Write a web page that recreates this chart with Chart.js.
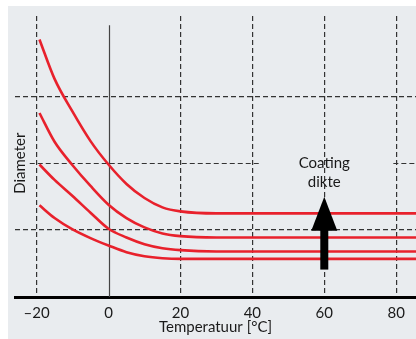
<!DOCTYPE html>
<html>
<head>
<meta charset="utf-8">
<script src="https://cdn.jsdelivr.net/npm/chart.js@4"></script>
<style>
    body { margin: 0; background: #fff; }
    #kader { position: absolute; left: 8px; top: 6px; width: 408px; height: 333px; background: #e9ecef; }
</style>
</head>
<body>
<div id="kader"><canvas id="grafiek" width="408" height="333"></canvas></div>
<script>
// Gegevens
const temperatuur = [-19.2, -15, -10, -5, 0, 5, 10, 15, 20, 30, 86];
const dikte1 = [3.85, 3.26, 2.77, 2.33, 1.98, 1.69, 1.48, 1.34, 1.28, 1.25, 1.25];
const dikte2 = [2.75, 2.32, 1.97, 1.66, 1.38, 1.18, 1.04, 0.95, 0.91, 0.89, 0.89];
const dikte3 = [1.98, 1.75, 1.51, 1.26, 1.02, 0.89, 0.79, 0.73, 0.70, 0.68, 0.68];
const dikte4 = [1.37, 1.18, 1.01, 0.88, 0.77, 0.67, 0.61, 0.58, 0.57, 0.57, 0.57];
const tempTicks = [-20, 0, 20, 40, 60, 80];
const diameterLijnen = [1, 3];
const pijl = { x: 60, van: 0.41, tot: 1.5, kopBasis: 0.99 };

const rood = '#e8212c';
const lettertype = 'Lato, "DejaVu Sans", sans-serif';

function maakReeks(waarden) {
    return {
        data: temperatuur.map((t, i) => ({ x: t, y: waarden[i] })),
        borderColor: rood,
        borderWidth: 2.6,
        pointRadius: 0,
        fill: false,
        showLine: true,
        cubicInterpolationMode: 'monotone',
    };
}

// Extra tekeningen: nullijn, onderbroken lijn, teksten en pijl
const extra = {
    id: 'extra',
    beforeDatasetsDraw(chart) {
        const { ctx, scales: { x, y } } = chart;
        ctx.save();
        // doorgetrokken lijn bij 0 °C
        const x0 = Math.round(x.getPixelForValue(0)) + 0.5;
        ctx.strokeStyle = '#444';
        ctx.lineWidth = 1.2;
        ctx.beginPath();
        ctx.moveTo(x0, y.getPixelForValue(4.06));
        ctx.lineTo(x0, y.getPixelForValue(0));
        ctx.stroke();
        // middelste horizontale stippellijn met onderbreking
        const y2 = Math.round(y.getPixelForValue(2)) + 0.5;
        ctx.strokeStyle = '#333';
        ctx.setLineDash([5, 3]);
        ctx.beginPath();
        ctx.moveTo(x.getPixelForValue(-21.9), y2);
        ctx.lineTo(x.getPixelForValue(42.5), y2);
        ctx.moveTo(x.getPixelForValue(79.2), y2);
        ctx.lineTo(x.right, y2);
        ctx.stroke();
        ctx.restore();
    },
    afterDatasetsDraw(chart) {
        const { ctx, scales: { x, y } } = chart;
        ctx.save();
        // pijl
        const px = x.getPixelForValue(pijl.x);
        const onder = y.getPixelForValue(pijl.van);
        const top = y.getPixelForValue(pijl.tot);
        const basis = y.getPixelForValue(pijl.kopBasis);
        ctx.fillStyle = '#000';
        ctx.fillRect(px - 4, basis - 1, 8, onder - basis + 1);
        ctx.beginPath();
        ctx.moveTo(px, top);
        ctx.lineTo(px + 13, basis);
        ctx.lineTo(px - 13, basis);
        ctx.closePath();
        ctx.fill();
        // teksten
        ctx.fillStyle = '#1a1a1a';
        ctx.font = '15px ' + lettertype;
        ctx.textAlign = 'center';
        ctx.textBaseline = 'middle';
        ctx.fillText('Coating', px, y.getPixelForValue(2.0));
        ctx.fillText('dikte', px, y.getPixelForValue(1.71));
        ctx.translate(x.getPixelForValue(-24.7), y.getPixelForValue(2.0));
        ctx.rotate(-Math.PI / 2);
        ctx.fillText('Diameter', 0, 0);
        ctx.restore();
    }
};

new Chart(document.getElementById('grafiek'), {
    type: 'scatter',
    data: {
        datasets: [maakReeks(dikte1), maakReeks(dikte2), maakReeks(dikte3), maakReeks(dikte4)],
    },
    options: {
        responsive: false,
        animation: false,
        devicePixelRatio: 1,
        layout: { padding: { left: 7, right: 0, top: 10, bottom: 4 } },
        plugins: { legend: { display: false }, tooltip: { enabled: false } },
        scales: {
            x: {
                type: 'linear',
                min: -26,
                max: 85.5,
                afterBuildTicks: (schaal) => { schaal.ticks = tempTicks.map((v) => ({ value: v })); },
                ticks: {
                    color: '#1a1a1a',
                    font: { family: lettertype, size: 15, lineHeight: 1.2 },
                    padding: 7,
                    maxRotation: 0,
                    autoSkip: false,
                    callback: (v) => (v < 0 ? '–' + Math.abs(v) : String(v)),
                },
                grid: {
                    color: (c) => (c.tick && c.tick.value === 0 ? 'transparent' : '#333'),
                    lineWidth: 1.2,
                    drawTicks: false,
                    tickLength: 0,
                },
                border: { display: true, color: '#000', width: 3, dash: [5, 3] },
                title: {
                    display: true,
                    text: 'Temperatuur [°C]',
                    color: '#1a1a1a',
                    font: { family: lettertype, size: 15, lineHeight: 1 },
                    padding: { top: -9, bottom: 0 },
                },
            },
            y: {
                type: 'linear',
                min: 0,
                max: 4.2,
                afterBuildTicks: (schaal) => { schaal.ticks = diameterLijnen.map((v) => ({ value: v })); },
                ticks: { display: false },
                grid: { color: '#333', lineWidth: 1.2, drawTicks: false, tickLength: 0 },
                border: { display: false, dash: [5, 3] },
            },
        },
    },
    plugins: [extra],
});
</script>
</body>
</html>
